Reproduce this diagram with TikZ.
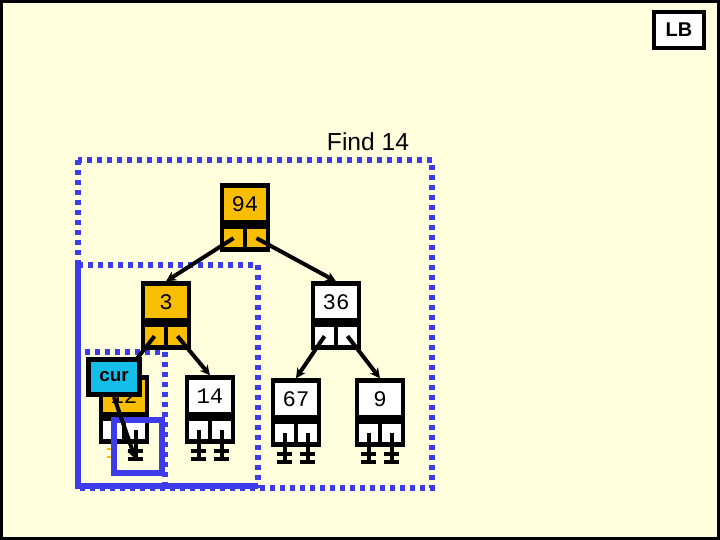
\documentclass[tikz,border=0pt]{standalone}
\usepackage{fontspec}
\setmainfont{Liberation Sans}
\newfontfamily\keyfont{Liberation Mono}
\usetikzlibrary{arrows.meta,positioning}
\definecolor{paper}{RGB}{255,255,222}
\definecolor{gold}{RGB}{250,190,0}
\definecolor{bblue}{RGB}{60,60,235}
\definecolor{curcyan}{RGB}{20,190,235}
\begin{document}
\begin{tikzpicture}[x=0.03cm, y=-0.03cm]
		\tikzset{keybox/.style={draw, line width=1.3mm, minimum width=1.38cm, minimum height=1.11cm, inner sep=0, font=\keyfont\fontsize{19}{19}\selectfont}}
		\tikzset{cell/.style={draw, line width=1.3mm, minimum width=0.69cm, minimum height=0.68cm, inner sep=0}}
		\tikzset{ptr/.style={line width=1.2mm, -{Stealth[length=3mm,width=3mm]}}}
		\tikzset{dots/.style={bblue, line width=1.8mm, dash pattern=on 1.5mm off 1.5mm}}
		\tikzset{wall/.style={bblue, line width=1.8mm}}
		\useasboundingbox (0,0) rectangle (720,540);
		\fill[paper] (0,0) rectangle (720,540);
		\draw[line width=1mm] (1.5,1.5) rectangle (718.5,538.5);
		\node[draw, line width=1mm, fill=white, minimum width=1.5cm, minimum height=1.08cm, font=\bfseries\fontsize{17}{17}\selectfont] (lb) at (679,30) {LB};
		\node[font=\fontsize{21}{21}\selectfont] (title) at (368,142) {Find 14};
		% search regions
		\draw[dots] (78,160) rectangle (432,488);
		\draw[dots] (78,265) -- (258,265) -- (258,488);
		\draw[dots] (85,352) -- (165,352) -- (165,488);
		\draw[wall] (78,265) -- (78,486) -- (258,486);
		% tree nodes
		\foreach \name/\val/\x/\y/\col/\cc in {a/94/245/204/gold/gold, b/3/166/302/gold/gold, c/36/336/302/white/white, d/12/124/396/gold/white, e/14/210/396/white/white, f/67/296/399/white/white, g/9/380/399/white/white} {
			\node[keybox, fill=\col] (\name) at (\x,\y) {\val};
			\node[cell, fill=\cc, below=0 of \name.south west, anchor=north west] (\name l) {};
			\node[cell, fill=\cc, below=0 of \name.south east, anchor=north east] (\name r) {};
		}
		% null pointers
		\foreach \c in {dr, el, er, fl, fr, gl, gr} {
			\draw[line width=1.2mm] (\c.center) -- ++(0,29) coordinate (\c g);
			\draw[line width=1.2mm] ([xshift=-6]\c g) -- ([xshift=6]\c g);
			\draw[line width=1.2mm] ([xshift=-6,yshift=7]\c g) -- ([xshift=6,yshift=7]\c g);
		}
		\draw[gold, line width=0.8mm] (107,449) -- (117,449) (107,457) -- (117,457);
		\draw[wall] (114,420) rectangle (162,473);
		\draw[ptr] (al.center) -- (b.north);
		\draw[ptr] (ar.center) -- (c.north);
		\draw[ptr] (bl.center) -- (d.north);
		\draw[ptr] (br.center) -- (e.north);
		\draw[ptr] (cl.center) -- (f.north);
		\draw[ptr] (cr.center) -- (g.north);
		\node[draw, line width=1.5mm, fill=curcyan, minimum width=1.5cm, minimum height=1.05cm, font=\bfseries\fontsize{16}{16}\selectfont] (cur) at (114,377) {cur};
		\draw[ptr] (cur.south) -- (drg);
	\end{tikzpicture}
\end{document}
